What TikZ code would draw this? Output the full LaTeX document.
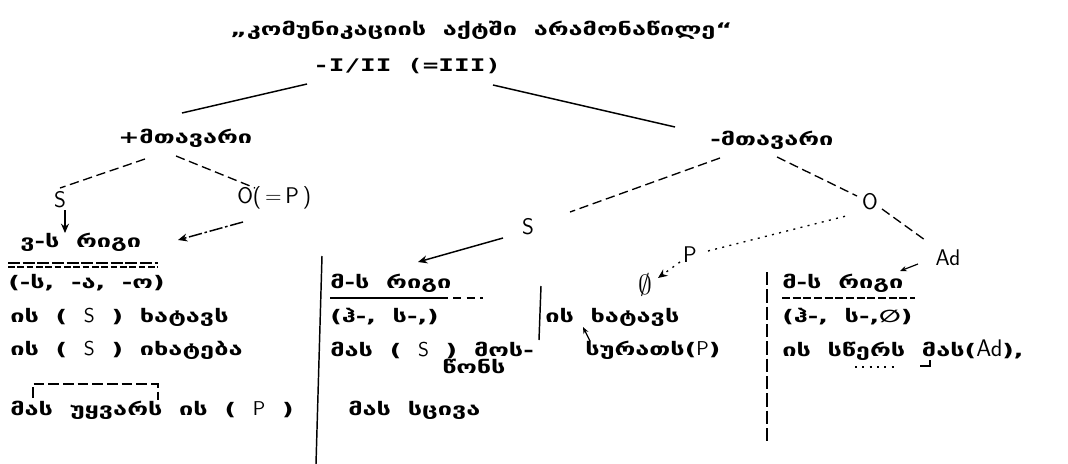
\documentclass[tikz,border=0pt]{standalone}
\usepackage{fontspec}
\newfontfamily\gf[FakeStretch=1.46, WordSpace=1.9]{DejaVu Sans}
\newfontfamily\gm[FakeStretch=1.5]{DejaVu Sans Mono}
\usetikzlibrary{arrows.meta}
\newcommand\hs[1]{{\mdseries\sffamily\fontsize{15}{17}\selectfont #1}}
\newcommand\hb[1]{{\mdseries\sffamily\fontsize{18}{20}\selectfont #1}}
\begin{document}
\begin{tikzpicture}[x=0.75pt,y=-0.75pt,
 tw/.style={font=\gf\bfseries\fontsize{13}{15}\selectfont, anchor=west, inner sep=0pt},
 tm/.style={font=\gm\bfseries\fontsize{13}{15}\selectfont, anchor=west, inner sep=0pt},
 hw/.style={font=\sffamily\fontsize{17}{19}\selectfont, inner sep=0pt},
 ln/.style={line width=1.1pt},
 dsh/.style={line width=1pt, dash pattern=on 7pt off 3.5pt},
 dotl/.style={line width=1pt, dash pattern=on 1.5pt off 4pt},
 arr/.style={-{Stealth[length=7pt,width=6pt]}, line width=1.1pt},
]
\useasboundingbox[fill=white] (0,0) rectangle (1068,464);

% texts
\node[tw] (title) at (230,30) {„კომუნიკაციის აქტში არამონაწილე“};
\node[tm] (sub) at (313,66) {-I/II (=III)};
\node[tw] (plus) at (118,138) {+მთავარი};
\node[tw] (minus) at (710,140) {-მთავარი};

\node[tw] (l1) at (20,242) {ვ-ს რიგი};
\node[tw] (l2) at (8,283) {(-ს, -ა, -ო)};
\node[tw] (l3) at (10,317) {ის ( \hs{S} ) ხატავს};
\node[tw] (l4) at (10,350) {ის ( \hs{S} ) იხატება};
\node[tw] (l5) at (10,410) {მას უყვარს ის ( \hs{P} )};

\node[tw] (m1) at (330,283) {მ-ს რიგი};
\node[tw] (m2) at (330,317) {(ჰ-, ს-,)};
\node[tw] (m3) at (330,350) {მას ( \hs{S} ) მოს-};
\node[tw] (m4) at (442,366) {წონს};
\node[tw] (m5) at (348,410) {მას სცივა};

\node[tw] (c1) at (545,317) {ის ხატავს};
\node[tw] (c2) at (585,350) {სურათს(\hs{P})};

\node[tw] (r1) at (782,283) {მ-ს რიგი};
\node[tw] (r2) at (782,317) {(ჰ-, ს-,∅)};
\node[tw] (r3) at (782,350) {ის სწერს მას(\hb{Ad}),};

% handwritten labels
\node[hw] (s1) at (60,200) {S};
\node[hw,anchor=west] (o1) at (237,198) {O(\,=\,P\,)};
\node[hw] (s2) at (528,227) {S};
\node[hw] (p2) at (690,255) {P};
\node[inner sep=0pt] (e2) at (645,285) {\fontsize{20}{22}\selectfont$\emptyset$};
\node[hw] (o2) at (870,202) {O};
\node[hw] (ad) at (948,258) {Ad};

% connector end points
\coordinate (t1) at (307,84);  \coordinate (p1) at (182,113);
\coordinate (t2) at (493,85);  \coordinate (n1) at (675,127);
\coordinate (p3) at (145,159); \coordinate (s1t) at (60,188);
\coordinate (p4) at (176,156); \coordinate (o1t) at (255,188);
\coordinate (n3) at (720,158); \coordinate (s2t) at (570,212);
\coordinate (n4) at (777,157); \coordinate (o2t) at (857,196);

\draw[ln] (t1) -- (p1);
\draw[ln] (t2) -- (n1);
\draw[dsh] (p3) -- (s1t);
\draw[dsh] (p4) -- (o1t);
\draw[dsh] (n3) -- (s2t);
\draw[dsh] (n4) -- (o2t);

% arrows
\draw[arr] (65,210) -- (65,233);
\draw[arr, dash pattern=on 10pt off 2pt on 2pt off 2pt] (243,222) -- (178,240);
\draw[arr] (503,238) -- (418,262);
\draw[arr, dotl] (680,262) -- (658,278);
\draw[-{Stealth[length=5pt,width=4pt]}, line width=0.9pt] (590,341) -- (583,327);
\draw[-{Stealth[length=5pt,width=4pt]}, line width=0.9pt] (918,264) -- (900,271);

% dotted from P to O, O to Ad
\draw[dotl] (708,251) -- (850,215);
\draw[dsh] (882,209) -- (925,240);

% underlines
\draw[line width=1pt, dash pattern=on 9pt off 2pt] (8,263) -- (158,263);
\draw[line width=1pt, dash pattern=on 5pt off 2pt] (8,267) -- (158,267);
\draw[line width=1.1pt] (330,298) -- (440,298);
\draw[line width=1pt, dash pattern=on 6pt off 4pt] (440,298) -- (483,298);
\draw[line width=1pt, dash pattern=on 6pt off 2pt] (782,298) -- (915,298);

% bracket over the last left row
\draw[line width=1pt, dash pattern=on 8pt off 3pt] (33,398) -- (33,384) -- (158,384) -- (158,400);

% dotted mark under r3
\draw[dotl] (855,367) -- (897,367);
\draw[line width=0.9pt] (920,366) -- (930,366) -- (930,360);

% column separators
\draw[ln] (322,256) -- (316,464);
\draw[ln] (541,286) -- (539,340);
\draw[line width=1pt, dash pattern=on 10pt off 3pt] (767,272) -- (767,445);
\end{tikzpicture}
\end{document}
